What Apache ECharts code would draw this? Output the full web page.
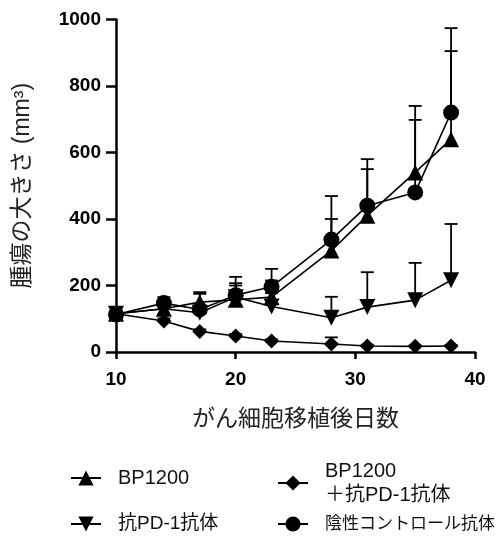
<!DOCTYPE html>
<html>
<head>
<meta charset="utf-8">
<script src="https://cdn.jsdelivr.net/npm/echarts@6/dist/echarts.min.js"></script>
<style>
html,body{margin:0;padding:0;background:#fff;}
#main{width:502px;height:539px;}
</style>
</head>
<body>
<div id="main"></div>
<script>
const days = [10, 14, 17, 20, 23, 28, 31, 35, 38];
const bp1200 = [115, 130, 150, 157, 165, 305, 410, 540, 640];
const bp1200Sem = [8, 25, 25, 50, 50, 95, 140, 200, 265];
const combo = [115, 93, 62, 48, 33, 24, 18, 17, 18];
const comboSem = [5, 8, 6, 6, 5, 20, 4, 3, 3];
const antiPD1 = [115, 130, 118, 165, 137, 103, 135, 156, 216];
const antiPD1Sem = [8, 20, 20, 35, 40, 63, 105, 112, 169];
const control = [113, 147, 128, 171, 196, 338, 440, 480, 720];
const controlSem = [8, 18, 52, 55, 54, 131, 140, 218, 254];
const xTicks = [10, 20, 30, 40];
const yTicks = [0, 200, 400, 600, 800, 1000];

const names = ['BP1200', 'BP1200\n＋抗PD-1抗体', '抗PD-1抗体', '陰性コントロール抗体'];
const FONT = '"Liberation Sans", Arial, "Noto Sans CJK JP", sans-serif';

function pts(vals) { return days.map((d, i) => [d, vals[i]]); }
function errData(vals, sems) { return days.map((d, i) => [d, vals[i], vals[i] + sems[i]]); }

function errSeries(vals, sems) {
  return {
    type: 'custom',
    silent: true,
    z: 1,
    renderItem: function (params, api) {
      const x = api.value(0);
      const p0 = api.coord([x, api.value(1)]);
      const p1 = api.coord([x, api.value(2)]);
      const hw = 6.5;
      return {
        type: 'group',
        children: [
          { type: 'line', shape: { x1: p0[0], y1: p0[1], x2: p1[0], y2: p1[1] }, style: { stroke: '#000', lineWidth: 1.8 } },
          { type: 'line', shape: { x1: p1[0] - hw, y1: p1[1], x2: p1[0] + hw, y2: p1[1] }, style: { stroke: '#000', lineWidth: 1.8 } }
        ]
      };
    },
    data: errData(vals, sems)
  };
}

function lineSeries(name, vals, symbol, size) {
  return {
    name: name,
    type: 'line',
    z: 3,
    data: pts(vals),
    symbol: symbol,
    symbolSize: size,
    showAllSymbol: true,
    itemStyle: { color: '#000', borderWidth: 0 },
    lineStyle: { color: '#000', width: 1.6 },
    emphasis: { disabled: true },
    animation: false
  };
}

const triDown = 'path://M0,0 L10,0 L5,9 Z';

const chart = echarts.init(document.getElementById('main'));
function legendAt(name, left, top, fs) {
  return {
    data: [name], left: left, top: top, orient: 'horizontal',
    itemWidth: 30, itemHeight: 19, itemGap: 0, selectedMode: false,
    textStyle: { fontSize: fs, color: '#111', fontFamily: FONT, lineHeight: 24, padding: [0, 0, 0, 12] }
  };
}

chart.setOption({
  animation: false,
  grid: { left: 116, right: 27, top: 19.5, bottom: 187, containLabel: false },
  legend: [
    legendAt(names[0], 65, 461, 20),
    legendAt(names[1], 272, 454, 20),
    legendAt(names[2], 65, 507, 19),
    legendAt(names[3], 272, 507, 17)
  ],
  xAxis: {
    type: 'value', min: 10, max: 40, interval: 10,
    name: 'がん細胞移植後日数', nameLocation: 'middle', nameGap: 56,
    nameTextStyle: { fontSize: 23, color: '#222', fontFamily: FONT },
    axisLine: { lineStyle: { color: '#000', width: 2.5 } },
    axisTick: { length: 7, lineStyle: { color: '#000', width: 2.5 } },
    axisLabel: { fontSize: 19, fontWeight: 'bold', color: '#000', fontFamily: FONT, margin: 18,
      formatter: v => xTicks.includes(v) ? String(v) : '' },
    splitLine: { show: false }
  },
  yAxis: {
    type: 'value', min: 0, max: 1000, interval: 200,
    name: '腫瘍の大きさ (mm³)', nameLocation: 'middle', nameGap: 82, nameRotate: 90,
    nameTextStyle: { fontSize: 23, color: '#222', fontFamily: FONT },
    axisLine: { show: true, lineStyle: { color: '#000', width: 2.5 } },
    axisTick: { show: true, length: 10, lineStyle: { color: '#000', width: 2.5 } },
    axisLabel: { fontSize: 19, fontWeight: 'bold', color: '#000', fontFamily: FONT, margin: 15,
      formatter: v => yTicks.includes(v) ? String(v) : '' },
    splitLine: { show: false }
  },
  series: [
    errSeries(bp1200, bp1200Sem),
    errSeries(combo, comboSem),
    errSeries(antiPD1, antiPD1Sem),
    errSeries(control, controlSem),
    lineSeries(names[0], bp1200, 'triangle', 16),
    lineSeries(names[1], combo, 'diamond', 15),
    lineSeries(names[2], antiPD1, triDown, 16),
    lineSeries(names[3], control, 'circle', 16)
  ]
});
</script>
</body>
</html>
